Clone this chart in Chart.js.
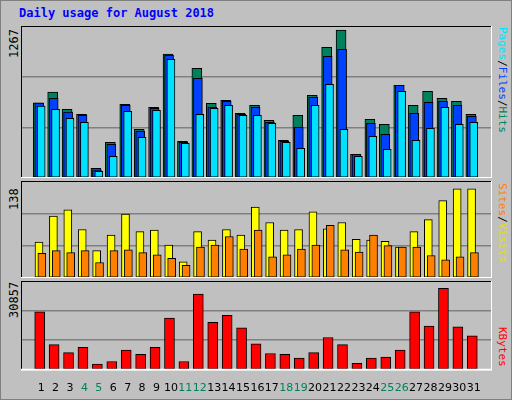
<!DOCTYPE html>
<html><head><meta charset="utf-8">
<script src="https://cdn.jsdelivr.net/npm/chart.js@4"></script>
<style>
body{margin:0;background:#fff}
#wrap{position:absolute;left:0;top:0;width:510px;height:398px;background:#c0c0c0;border:1px solid #808080}
.c{position:absolute}
.t{position:absolute;font-family:"DejaVu Sans Mono",monospace;font-size:12px;white-space:nowrap}
.rot{transform-origin:left top;transform:rotate(-90deg)}
.rotr{transform-origin:left top;transform:rotate(90deg)}
</style></head><body>
<div id="wrap">
<div class="t" style="left:18px;top:5px;color:#0000ff;font-weight:bold">Daily usage for August 2018</div>
<div class="t rot" style="left:6px;top:57px;color:#000">1267</div>
<div class="t rot" style="left:6px;top:209px;color:#000">138</div>
<div class="t rot" style="left:6px;top:317px;color:#000">30857</div>
<div class="t rotr" style="left:508px;top:26px;font-size:11px"><span style="color:#00e0ff">Pages</span><span>/</span><span style="color:#0040ff">Files</span><span>/</span><span style="color:#00805c">Hits</span></div>
<div class="t rotr" style="left:508px;top:182px;font-size:11px"><span style="color:#ff8000">Sites</span><span>/</span><span style="color:#e0e000">Visits</span></div>
<div class="t rotr" style="left:508px;top:326px;font-size:11px;color:#ff0000">KBytes</div>
<canvas id="c1" class="c" style="left:20px;top:25px;width:471px;height:152px"></canvas>
<canvas id="c2" class="c" style="left:20px;top:180px;width:471px;height:97px"></canvas>
<canvas id="c3" class="c" style="left:20px;top:280px;width:471px;height:118px"></canvas>
</div>
<script>
const days=[1,2,3,4,5,6,7,8,9,10,11,12,13,14,15,16,17,18,19,20,21,22,23,24,25,26,27,28,29,30,31];
const weekend=[4,5,11,12,18,19,25,26];
const hits=[626,717,573,531,81,298,615,406,590,1032,306,915,623,648,540,606,481,314,523,690,1090,1232,198,490,448,773,606,723,665,640,531];
const files=[625,665,550,523,69,281,606,389,581,1023,298,831,590,640,531,590,465,306,423,673,1015,1073,198,456,364,773,540,631,640,606,515];
const pages=[600,573,498,465,56,181,556,339,565,990,289,531,581,606,523,523,456,298,248,606,781,406,181,348,239,723,314,415,590,448,465];
const visits=[51,88,97,69,39,61,91,66,68,47,23,66,54,69,61,101,79,68,69,94,70,79,55,54,52,44,66,83,110,127,127];
const sites=[35,39,36,39,22,39,40,36,33,28,18,44,47,59,41,68,30,33,41,47,75,40,37,61,46,44,44,32,26,30,36];
const kbytes=[20160,8740,5960,7820,1950,2880,6890,5350,7820,18000,2880,26330,16460,18920,14610,9050,5660,5350,4110,5960,11210,8740,2260,4110,4420,6890,20160,15230,28290,14920,11830];
const maxTop=1267,maxMid=138,maxBot=30857;

const frame={id:'frame',afterDraw(ch){const a=ch.chartArea,c=ch.ctx;c.save();c.lineWidth=2;
 c.strokeStyle='#000';c.beginPath();c.moveTo(a.left,a.bottom);c.lineTo(a.left,a.top);c.lineTo(a.right,a.top);c.stroke();
 c.strokeStyle='#fff';c.beginPath();c.moveTo(a.right,a.top);c.lineTo(a.right,a.bottom);c.lineTo(a.left,a.bottom);c.stroke();c.restore();}};

function ds(vals,shift,color,w,ord){return{data:vals.map((v,i)=>({x:days[i]+shift,y:v})),backgroundColor:color,borderColor:'#000',borderWidth:1,barThickness:w,grouped:false,borderSkipped:false,order:ord};}
function make(id,sets,max,showX){
 new Chart(document.getElementById(id),{type:'bar',data:{datasets:sets},plugins:[frame],
 options:{responsive:false,animation:false,maintainAspectRatio:false,layout:{padding:0},
  plugins:{legend:{display:false},tooltip:{enabled:false}},
  scales:{
   x:{type:'linear',min:0.13,max:31.74,display:showX,grid:{display:false},border:{display:false},
      afterBuildTicks(ax){ax.ticks=days.map(d=>({value:d}));},
      ticks:{autoSkip:false,maxRotation:0,padding:4,font:{family:'DejaVu Sans',size:11},
        color:c=>weekend.includes(c.tick.value)?'#00805c':'#000',callback:v=>String(v)}},
   y:{min:0,max:max,display:true,afterBuildTicks(ax){ax.ticks=[0,1,2,3].map(k=>({value:max*k/3}));},
      ticks:{display:false},border:{display:false},grid:{color:'#808080',lineWidth:1.5,drawTicks:false}}}}});
}
function sz(id,w,h){const c=document.getElementById(id);c.width=w;c.height=h;}
sz('c1',471,152);sz('c2',471,97);sz('c3',471,118);
make('c1',[ds(hits,-0.2,'#00805c',10,3),ds(files,-0.13,'#0040ff',9,2),ds(pages,0.0,'#00e0ff',8,1)],maxTop,false);
make('c2',[ds(visits,-0.15,'#ffff00',8,2),ds(sites,0.05,'#ff8000',8,1)],maxMid,false);
make('c3',[ds(kbytes,-0.1,'#ff0000',10,1)],maxBot,true);
</script></body></html>
